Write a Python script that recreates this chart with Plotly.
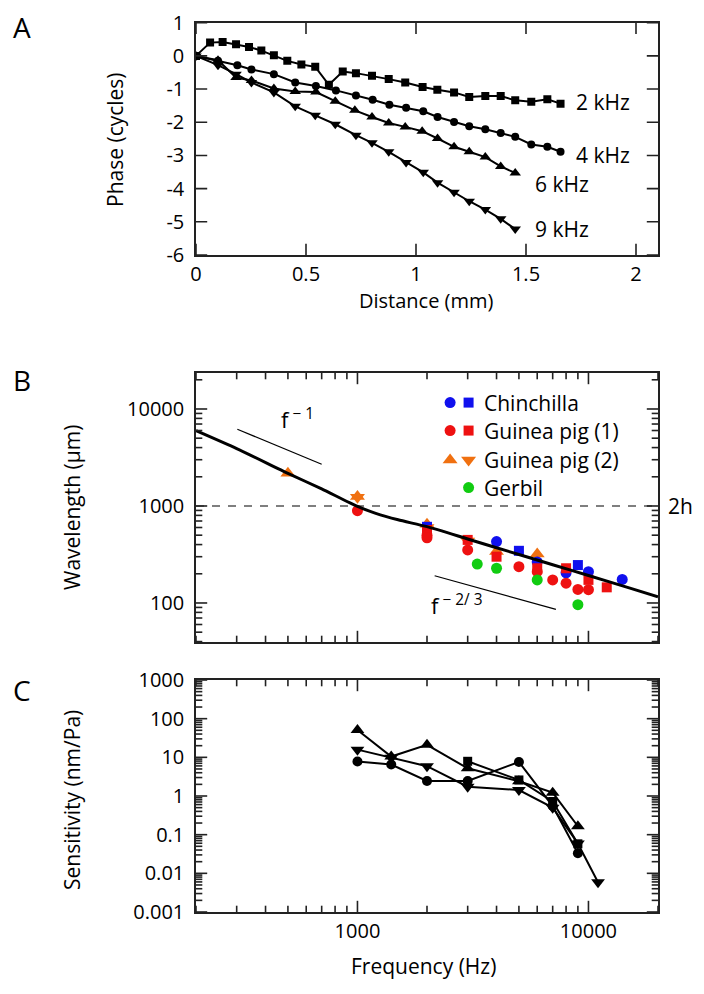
import math
import plotly.graph_objects as go

# ---------------- Panel A data: phase vs distance ----------------
dist_2k = [0, 0.064, 0.121, 0.182, 0.241, 0.297, 0.354, 0.415, 0.479, 0.542, 0.604, 0.667, 0.727,
           0.80, 0.876, 0.951, 1.03, 1.097, 1.173, 1.242, 1.315, 1.385, 1.451, 1.524, 1.597, 1.657]
phase_2k = [0, 0.40, 0.42, 0.35, 0.27, 0.16, 0.02, -0.15, -0.26, -0.33, -0.87, -0.47, -0.52,
            -0.60, -0.70, -0.80, -0.94, -1.02, -1.10, -1.24, -1.21, -1.21, -1.34, -1.38, -1.31, -1.44]

dist_4k = [0, 0.10, 0.188, 0.252, 0.354, 0.451, 0.545, 0.636, 0.727, 0.803, 0.879, 0.955, 1.033,
           1.098, 1.173, 1.242, 1.315, 1.385, 1.451, 1.524, 1.597, 1.657]
phase_4k = [0, -0.15, -0.28, -0.41, -0.55, -0.80, -0.91, -1.04, -1.19, -1.32, -1.47, -1.56, -1.67,
            -1.84, -1.99, -2.12, -2.21, -2.32, -2.44, -2.67, -2.74, -2.89]

dist_6k = [0, 0.10, 0.182, 0.252, 0.354, 0.451, 0.545, 0.633, 0.722, 0.80, 0.876, 0.951, 1.028,
           1.098, 1.173, 1.242, 1.315, 1.385, 1.451]
phase_6k = [0, -0.13, -0.65, -0.74, -0.98, -1.07, -1.09, -1.37, -1.64, -1.84, -2.02, -2.14, -2.27,
            -2.49, -2.74, -2.89, -3.05, -3.33, -3.53]

dist_9k = [0, 0.10, 0.182, 0.252, 0.354, 0.451, 0.542, 0.633, 0.727, 0.80, 0.876, 0.955, 1.033,
           1.098, 1.173, 1.242, 1.315, 1.385, 1.451]
phase_9k = [0, -0.28, -0.55, -0.80, -1.10, -1.52, -1.79, -2.06, -2.39, -2.62, -2.89, -3.21, -3.51,
            -3.82, -4.11, -4.38, -4.63, -4.91, -5.22]

labels_A = ["2 kHz", "4 kHz", "6 kHz", "9 kHz"]
label_A_x = [1.72, 1.72, 1.53, 1.53]
label_A_y = [-1.40, -2.99, -3.85, -5.22]

# ---------------- Panel B data: wavelength vs frequency ----------------
model_f = [200, 300, 500, 700, 1000, 1200, 1500, 2000, 3000, 5000, 7000, 10000, 15000, 20000]
model_wl = [5970, 3900, 2170, 1500, 990, 840, 720, 612, 457, 316, 248, 192, 143, 116]

chin_circ_f = [4000, 6000, 8000, 10000, 14000]
chin_circ_wl = [430, 265, 205, 210, 175]
chin_sq_f = [2000, 5000, 9000]
chin_sq_wl = [610, 345, 246]

gp1_circ_f = [1000, 2000, 2000, 3000, 5000, 6000, 7000, 8000, 9000, 10000]
gp1_circ_wl = [895, 500, 470, 352, 237, 210, 173, 160, 138, 137]
gp1_sq_f = [2000, 3000, 4000, 6000, 8000, 10000, 12000]
gp1_sq_wl = [565, 447, 300, 228, 228, 173, 145]

gp2_up_f = [500, 1000, 2000, 4000, 6000]
gp2_up_wl = [2170, 1250, 650, 340, 320]
gp2_dn_f = [1000, 2000, 3000]
gp2_dn_wl = [1230, 600, 435]

gerbil_f = [3300, 4000, 6000, 9000]
gerbil_wl = [252, 228, 173, 96]

ref_2h_f = [200, 20000]
ref_2h_wl = [1000, 1000]
slope1_f = [302, 700]
slope1_wl = [6180, 2690]
slope23_f = [2158, 7230]
slope23_wl = [191, 86]

legend_names = ["Chinchilla", "Guinea pig (1)", "Guinea pig (2)", "Gerbil"]

# ---------------- Panel C data: sensitivity vs frequency ----------------
freq_C = [1000, 1400, 2000, 3000, 5000, 7000, 9000, 11000]
sens_up = [51, 10.5, 21, 5.2, 2.4, 1.22, 0.165]
sens_dn = [15.8, 9.7, 5.9, 1.74, 1.43, 0.5, 0.059, 0.0059]
sens_circ = [7.8, 6.5, 2.44, 2.44, 7.6, 0.55, 0.033]
freq_sq = [3000, 5000, 7000, 9000]
sens_sq = [7.9, 2.6, 0.72, 0.058]

# ---------------- axes: ranges, ticks, labels ----------------
dist_range = [0, 2.1]
phase_range = [-6, 1]
freq_range = [200, 20000]
wl_range = [39.6, 23500]
sens_range = [0.001, 1000]

dist_ticks = [0, 0.5, 1, 1.5, 2]
dist_ticktext = ["0", "0.5", "1", "1.5", "2"]
phase_ticks = [-6, -5, -4, -3, -2, -1, 0, 1]
phase_ticktext = ["-6", "-5", "-4", "-3", "-2", "-1", "0", "1"]
freq_major = [1000, 10000]
freq_ticktext = ["1000", "10000"]
freq_minor = [200, 300, 400, 500, 600, 700, 800, 900, 2000, 3000, 4000, 5000, 6000, 7000, 8000, 9000, 20000]
wl_major = [100, 1000, 10000]
wl_ticktext = ["100", "1000", "10000"]
wl_minor = [40, 50, 60, 70, 80, 90, 200, 300, 400, 500, 600, 700, 800, 900,
            2000, 3000, 4000, 5000, 6000, 7000, 8000, 9000, 20000]
sens_major = [0.001, 0.01, 0.1, 1, 10, 100, 1000]
sens_ticktext = ["0.001", "0.01", "0.1", "1", "10", "100", "1000"]
sens_minor = [m * d for d in [0.001, 0.01, 0.1, 1, 10, 100] for m in range(2, 10)]

# ---------------- styling ----------------
W, H = 704, 994
FONT = "Open Sans"
FS = 20
AX = "#222222"
BLUE = "#1010ee"
RED = "#ee1111"
ORANGE = "#f07010"
GREEN = "#11cc11"


def px(x):
    return x / W


def py(y):
    return 1 - y / H


XDOM = [px(196), px(658)]
A_DOM = [py(255), py(22.7)]
B_DOM = [py(642), py(373)]
C_DOM = [py(912), py(680)]

fig = go.Figure()

for xs, ys, sym, sz in [(dist_2k, phase_2k, "square", 8), (dist_4k, phase_4k, "circle", 8),
                        (dist_6k, phase_6k, "triangle-up", 10), (dist_9k, phase_9k, "triangle-down", 10)]:
    fig.add_trace(go.Scatter(x=xs, y=ys, mode="lines+markers", xaxis="x", yaxis="y",
                             line=dict(color="black", width=2),
                             marker=dict(symbol=sym, size=sz, color="black"), showlegend=False))

fig.add_trace(go.Scatter(x=ref_2h_f, y=ref_2h_wl, mode="lines", xaxis="x2", yaxis="y2",
                         line=dict(color="black", width=1.2, dash="8px,8px"), showlegend=False))
fig.add_trace(go.Scatter(x=slope1_f, y=slope1_wl, mode="lines", xaxis="x2", yaxis="y2",
                         line=dict(color="black", width=1.2), showlegend=False))
fig.add_trace(go.Scatter(x=slope23_f, y=slope23_wl, mode="lines", xaxis="x2", yaxis="y2",
                         line=dict(color="black", width=1.2), showlegend=False))
for xs, ys, sym, col, sz in [
    (gp2_up_f, gp2_up_wl, "triangle-up", ORANGE, 13),
    (gp2_dn_f, gp2_dn_wl, "triangle-down", ORANGE, 13),
    (chin_sq_f, chin_sq_wl, "square", BLUE, 10),
    (chin_circ_f, chin_circ_wl, "circle", BLUE, 11),
    (gp1_sq_f, gp1_sq_wl, "square", RED, 10),
    (gp1_circ_f, gp1_circ_wl, "circle", RED, 11),
    (gerbil_f, gerbil_wl, "circle", GREEN, 11),
]:
    fig.add_trace(go.Scatter(x=xs, y=ys, mode="markers", xaxis="x2", yaxis="y2",
                             marker=dict(symbol=sym, size=sz, color=col, line=dict(width=0)),
                             showlegend=False))
fig.add_trace(go.Scatter(x=model_f, y=model_wl, mode="lines", xaxis="x2", yaxis="y2",
                         line=dict(color="black", width=3, shape="spline", smoothing=0.6), showlegend=False))

# legend swatches on a hidden [0,1] subplot covering panel B
leg_rows = [0.890, 0.786, 0.677, 0.574]
leg_c1, leg_c2 = 0.550, 0.590
swatches = [
    ([leg_c1], [leg_rows[0]], "circle", BLUE, 11), ([leg_c2], [leg_rows[0]], "square", BLUE, 10),
    ([leg_c1], [leg_rows[1]], "circle", RED, 11), ([leg_c2], [leg_rows[1]], "square", RED, 10),
    ([leg_c1], [leg_rows[2]], "triangle-up", ORANGE, 13), ([leg_c2], [leg_rows[2]], "triangle-down", ORANGE, 13),
    ([leg_c2], [leg_rows[3]], "circle", GREEN, 11),
]
for xs, ys, sym, col, sz in swatches:
    fig.add_trace(go.Scatter(x=xs, y=ys, mode="markers", xaxis="x4", yaxis="y4",
                             marker=dict(symbol=sym, size=sz, color=col, line=dict(width=0)),
                             showlegend=False, hoverinfo="skip"))

for xs, ys, sym, sz in [(freq_C[:len(sens_circ)], sens_circ, "circle", 10),
                        (freq_C[:len(sens_up)], sens_up, "triangle-up", 12),
                        (freq_sq, sens_sq, "square", 9),
                        (freq_C[:len(sens_dn)], sens_dn, "triangle-down", 12)]:
    fig.add_trace(go.Scatter(x=xs, y=ys, mode="lines+markers", xaxis="x3", yaxis="y3",
                             line=dict(color="black", width=2),
                             marker=dict(symbol=sym, size=sz, color="black"), showlegend=False))


# Inward tick marks: line markers centred on the frame, clipped by the plot area so only
# the inner half shows (major 8 px, minor ~4 px).
def tick_marks(xa, ya, xr, yr, xmaj, xmin, ymaj, ymin):
    for vals, size in [(xmaj, 16), (xmin or [], 9)]:
        for edge in yr:
            if vals:
                fig.add_trace(go.Scatter(x=vals, y=[edge] * len(vals), xaxis=xa, yaxis=ya, mode="markers",
                                         marker=dict(symbol="line-ns-open", size=size, color=AX,
                                                     line=dict(color=AX, width=1.6)),
                                         cliponaxis=True, showlegend=False, hoverinfo="skip"))
    for vals, size in [(ymaj, 16), (ymin or [], 9)]:
        for edge in xr:
            if vals:
                fig.add_trace(go.Scatter(x=[edge] * len(vals), y=vals, xaxis=xa, yaxis=ya, mode="markers",
                                         marker=dict(symbol="line-ew-open", size=size, color=AX,
                                                     line=dict(color=AX, width=1.6)),
                                         cliponaxis=True, showlegend=False, hoverinfo="skip"))


tick_marks("x", "y", dist_range, phase_range, dist_ticks, None, phase_ticks, None)
tick_marks("x2", "y2", freq_range, wl_range, freq_major, freq_minor, wl_major, wl_minor)
tick_marks("x3", "y3", freq_range, sens_range, freq_major, freq_minor, sens_major, sens_minor)

tickfont = dict(family=FONT, size=FS, color="black")
base = dict(showline=True, linecolor=AX, linewidth=1.5, mirror=True, ticks="", showgrid=False,
            zeroline=False, tickfont=tickfont, automargin=False, tickmode="array", fixedrange=True)


def logr(r):
    return [math.log10(r[0]), math.log10(r[1])]


fig.update_layout(
    template="none",
    width=W, height=H, margin=dict(l=0, r=0, t=0, b=0, pad=0, autoexpand=False),
    paper_bgcolor="white", plot_bgcolor="rgba(0,0,0,0)", showlegend=False,
    font=dict(family=FONT, size=FS, color="black"),
    xaxis=dict(domain=XDOM, anchor="y", range=dist_range, tickvals=dist_ticks,
               ticktext=dist_ticktext, **base),
    yaxis=dict(domain=A_DOM, anchor="x", range=phase_range, tickvals=phase_ticks,
               ticktext=phase_ticktext, ticklabelstandoff=6, **base),
    xaxis2=dict(domain=XDOM, anchor="y2", type="log", range=logr(freq_range),
                tickvals=freq_major, ticktext=["", ""], showticklabels=False, **base),
    yaxis2=dict(domain=B_DOM, anchor="x2", type="log", range=logr(wl_range),
                tickvals=wl_major, ticktext=wl_ticktext, ticklabelstandoff=6, **base),
    xaxis3=dict(domain=XDOM, anchor="y3", type="log", range=logr(freq_range),
                tickvals=freq_major, ticktext=freq_ticktext, **base),
    yaxis3=dict(domain=C_DOM, anchor="x3", type="log", range=logr(sens_range),
                tickvals=sens_major, ticktext=sens_ticktext, ticklabelstandoff=6, **base),
    xaxis4=dict(domain=XDOM, anchor="y4", range=[0, 1], visible=False, fixedrange=True),
    yaxis4=dict(domain=B_DOM, anchor="x4", range=[0, 1], visible=False, fixedrange=True),
)

ann = []
for t, x, y in zip(labels_A, label_A_x, label_A_y):
    ann.append(dict(x=x, y=y, xref="x", yref="y", text=t, showarrow=False, xanchor="left",
                    yanchor="middle", font=dict(size=FS + 1)))


def pann(text, x, y, size=FS + 1, angle=0, xanchor="center"):
    return dict(x=px(x), y=py(y), xref="paper", yref="paper", text=text, showarrow=False,
                xanchor=xanchor, yanchor="middle", textangle=angle, font=dict(size=size))


for t, yy in [("A", 27), ("B", 380), ("C", 690)]:
    ann.append(pann(t, 22, yy, size=28))
ann.append(pann("Phase (cycles)", 115, 140, angle=-90))
ann.append(pann("Distance (mm)", 426, 300, size=FS))
ann.append(pann("Wavelength (μm)", 72, 508, angle=-90))
ann.append(pann("Sensitivity (nm/Pa)", 72, 800, angle=-90))
ann.append(pann("Frequency (Hz)", 423, 966))
ann.append(pann("2h", 666, 506, xanchor="left"))
ann.append(pann("f<sup> − 1</sup>", 279, 418, size=FS + 2, xanchor="left"))
ann.append(pann("f<sup> − 2/ 3</sup>", 429, 604, size=FS + 2, xanchor="left"))
for t, yy in zip(legend_names, [402.7, 430.7, 460, 487.7]):
    ann.append(pann(t, 482, yy, xanchor="left"))
fig.update_layout(annotations=ann)

fig.write_html("out.html", config={"displayModeBar": False},
               post_script=["document.body.style.margin='0';"])
